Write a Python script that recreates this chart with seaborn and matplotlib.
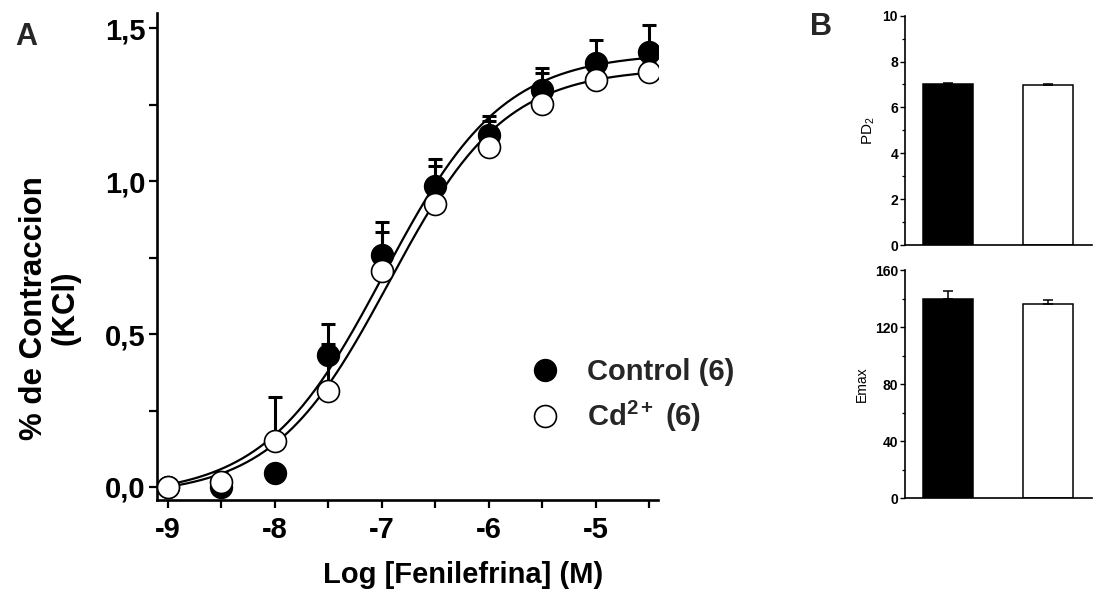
import numpy as np
import pandas as pd
import matplotlib
matplotlib.use("Agg")
import matplotlib.pyplot as plt
import seaborn as sns
from matplotlib.ticker import FixedLocator, FixedFormatter, MultipleLocator
from matplotlib.lines import Line2D

# ---------------- data ----------------
log_conc = [-9, -8.5, -8, -7.5, -7, -6.5, -6, -5.5, -5, -4.5]
control_mean = [0.0, 0.0, 0.046, 0.431, 0.758, 0.985, 1.150, 1.298, 1.385, 1.421]
control_sem = [0.0, 0.05, 0.02, 0.103, 0.109, 0.086, 0.063, 0.073, 0.078, 0.089]
cd_mean = [0.0, 0.015, 0.150, 0.314, 0.707, 0.925, 1.112, 1.254, 1.330, 1.358]
cd_sem = [0.0, 0.0, 0.144, 0.155, 0.127, 0.125, 0.085, 0.100, 0.040, 0.030]

# fitted sigmoid parameters: bottom, top, logEC50, Hill slope
control_fit = [-0.03, 1.42, -6.98, 0.78]
cd_fit = [-0.03, 1.37, -6.93, 0.80]

x_ticks = [-9, -8, -7, -6, -5]
x_tick_labels = ["-9", "-8", "-7", "-6", "-5"]
x_minor = [-8.5, -7.5, -6.5, -5.5, -4.5]
y_ticks = [0.0, 0.5, 1.0, 1.5]
y_tick_labels = ["0,0", "0,5", "1,0", "1,5"]
y_minor = [0.25, 0.75, 1.25]

groups = ["Control", "Cd"]
pd2_mean = [7.02, 6.98]
pd2_sem = [0.06, 0.05]
emax_mean = [140, 136]
emax_sem = [5, 3]

legend_labels = ["Control (6)", r"Cd$^{\mathbf{2+}}$ (6)"]

# ---------------- style ----------------
sns.set_theme(style="ticks")
plt.rcParams["font.family"] = ["Liberation Sans", "DejaVu Sans"]
plt.rcParams["mathtext.fontset"] = "custom"
plt.rcParams["mathtext.rm"] = "Liberation Sans"
plt.rcParams["mathtext.bf"] = "Liberation Sans:bold"
plt.rcParams["mathtext.it"] = "Liberation Sans:italic"


def hill(x, p):
    b, t, ec, n = p
    return b + (t - b) / (1 + 10 ** ((ec - x) * n))


fig = plt.figure(figsize=(11.04, 5.97), dpi=100)

# ---------------- panel A ----------------
ax = fig.add_axes([0.1422, 0.1625, 0.4538, 0.8157])
xs = np.linspace(log_conc[0], log_conc[-1], 400)
curve_df = pd.DataFrame({
    "x": np.concatenate([xs, xs]),
    "y": np.concatenate([hill(xs, control_fit), hill(xs, cd_fit)]),
    "grp": ["Control"] * len(xs) + ["Cd"] * len(xs),
})
sns.lineplot(data=curve_df, x="x", y="y", units="grp", estimator=None,
             color="black", lw=1.6, ax=ax, zorder=2)

zeros = np.zeros(len(log_conc))
ax.errorbar(log_conc, control_mean, yerr=[zeros, control_sem], fmt="none",
            ecolor="black", elinewidth=2.2, capsize=4.7, capthick=2.2, zorder=3)
ax.errorbar(log_conc, cd_mean, yerr=[zeros, cd_sem], fmt="none",
            ecolor="black", elinewidth=2.2, capsize=4.7, capthick=2.2, zorder=3)
sns.scatterplot(x=log_conc, y=control_mean, ax=ax, s=250, color="black",
                edgecolor="black", linewidth=1.0, zorder=4)
sns.scatterplot(x=log_conc, y=cd_mean, ax=ax, s=250, color="white",
                edgecolor="black", linewidth=1.2, zorder=5)

ax.set_xlim(-9.1, -4.416)
ax.set_ylim(-0.0425, 1.55)
ax.xaxis.set_major_locator(FixedLocator(x_ticks))
ax.xaxis.set_major_formatter(FixedFormatter(x_tick_labels))
ax.xaxis.set_minor_locator(FixedLocator(x_minor))
ax.yaxis.set_major_locator(FixedLocator(y_ticks))
ax.yaxis.set_major_formatter(FixedFormatter(y_tick_labels))
ax.yaxis.set_minor_locator(FixedLocator(y_minor))
ax.tick_params(which="both", direction="out", length=5.5, width=1.6,
               color="black", labelsize=21, labelcolor="black")
ax.tick_params(axis="x", pad=6)
ax.tick_params(axis="y", pad=3)
for lab in ax.get_xticklabels() + ax.get_yticklabels():
    lab.set_fontweight("bold")
sns.despine(ax=ax)
for s in ["left", "bottom"]:
    ax.spines[s].set_linewidth(1.9)
    ax.spines[s].set_color("black")

ax.set_xlabel("Log [Fenilefrina] (M)", fontsize=21, fontweight="bold", color="black")
ax.xaxis.set_label_coords(0.611, -0.125)
ax.set_ylabel("% de Contraccion\n(KCl)", fontsize=22.5, fontweight="bold",
              color="black", linespacing=1.1)
ax.yaxis.set_label_coords(-0.152, 0.395)

handles = [
    Line2D([], [], ls="none", marker="o", ms=15.8, mfc="black", mec="black"),
    Line2D([], [], ls="none", marker="o", ms=15.8, mfc="white", mec="black", mew=1.2),
]
leg = ax.legend(handles, legend_labels, loc="upper left",
                bbox_to_anchor=(0.745, 0.292), frameon=False,
                prop={"size": 21, "weight": "bold"}, handlelength=1.0,
                handletextpad=0.95, labelspacing=0.45, borderpad=0,
                borderaxespad=0)

fig.text(0.0136, 0.938, "A", fontsize=22, fontweight="bold", va="center", ha="left")
fig.text(0.7337, 0.955, "B", fontsize=22, fontweight="bold", va="center", ha="left")

# ---------------- panel B ----------------
bar_df = pd.DataFrame({"group": groups, "pd2": pd2_mean, "emax": emax_mean})


def bar_panel(rect, col, sem, ylim, major, minor, ylabel, lab_fs):
    axb = fig.add_axes(rect)
    sns.barplot(data=bar_df, x="group", y=col, hue="group",
                palette=["black", "white"], edgecolor="black", linewidth=1.1,
                width=0.5, errorbar=None, legend=False, ax=axb)
    axb.errorbar([0, 1], bar_df[col], yerr=[np.zeros(2), sem], fmt="none",
                 ecolor="black", elinewidth=1.1, capsize=3.5, capthick=1.1)
    axb.set_xlim(-0.43, 1.44)
    axb.set_ylim(*ylim)
    axb.yaxis.set_major_locator(MultipleLocator(major))
    axb.yaxis.set_minor_locator(MultipleLocator(minor))
    axb.set_xticks([])
    axb.set_xlabel("")
    axb.tick_params(axis="y", which="major", direction="out", length=3.5,
                    width=1.0, labelsize=10, pad=1.5, color="black",
                    labelcolor="black")
    axb.tick_params(axis="y", which="minor", direction="out", length=2,
                    width=0.9, color="black")
    for lab in axb.get_yticklabels():
        lab.set_fontweight("bold")
    sns.despine(ax=axb)
    for s in ["left", "bottom"]:
        axb.spines[s].set_linewidth(1.2)
        axb.spines[s].set_color("black")
    axb.set_ylabel(ylabel, fontsize=lab_fs, color="black")
    return axb


ax_pd2 = bar_panel([0.8197, 0.5896, 0.1694, 0.3841], "pd2", pd2_sem, (0, 10),
                   2, 1, r"PD$_{2}$", 11)
ax_emax = bar_panel([0.8197, 0.1658, 0.1694, 0.3819], "emax", emax_sem, (0, 160),
                    40, 20, "Emax", 10)

fig.savefig("out.png", dpi=100)
